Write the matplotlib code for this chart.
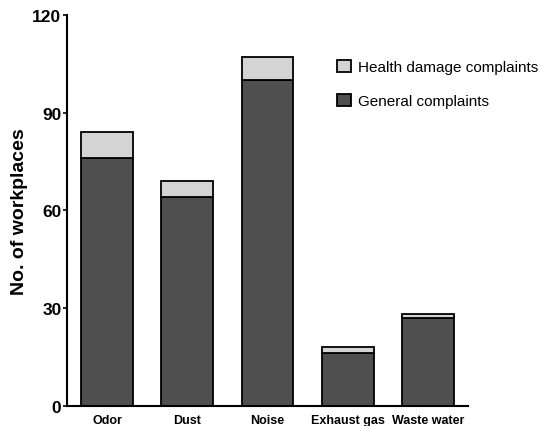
import matplotlib
matplotlib.use('Agg')
import matplotlib.pyplot as plt
import numpy as np

# values
categories = ['Odor', 'Dust', 'Noise', 'Exhaust gas', 'Waste water']
general = [76, 64, 100, 16, 27]
health = [8, 5, 7, 2, 1]
yticks = [0, 30, 60, 90, 120]

plt.rcParams['font.family'] = ['Liberation Sans', 'DejaVu Sans']

fig = plt.figure(figsize=(5.48, 4.27), dpi=100)
ax = fig.add_axes([0.1223, 0.048, 0.7317, 0.9145])

x = np.arange(len(categories))
w = 0.645
ax.bar(x, general, w, color='#4f4f4f', edgecolor='black', linewidth=1.3,
       label='General complaints')
ax.bar(x, health, w, bottom=general, color='#d4d4d4', edgecolor='black',
       linewidth=1.3, label='Health damage complaints')

ax.set_xlim(-0.5, 4.5)
ax.set_ylim(0, 120)
ax.set_yticks(yticks)
ax.set_yticklabels([str(t) for t in yticks], fontsize=12.5, fontweight='bold')
ax.set_xticks(x)
ax.set_xticklabels(categories, fontsize=9, fontweight='bold')
ax.tick_params(axis='x', length=0, pad=6)
ax.tick_params(axis='y', length=3, width=1.2, pad=1)
ax.set_ylabel('No. of workplaces', fontsize=14, fontweight='bold', labelpad=3)

for s in ['top', 'right']:
    ax.spines[s].set_visible(False)
for s in ['left', 'bottom']:
    ax.spines[s].set_linewidth(1.5)

# legend: health on top
h, l = ax.get_legend_handles_labels()
ax.legend(h[::-1], l[::-1], loc='upper left', bbox_to_anchor=(0.657, 0.90),
          frameon=False, fontsize=11, handlelength=0.95, handleheight=0.8,
          handletextpad=0.45, labelspacing=1.3, borderaxespad=0)

fig.savefig('out.png', dpi=100)
